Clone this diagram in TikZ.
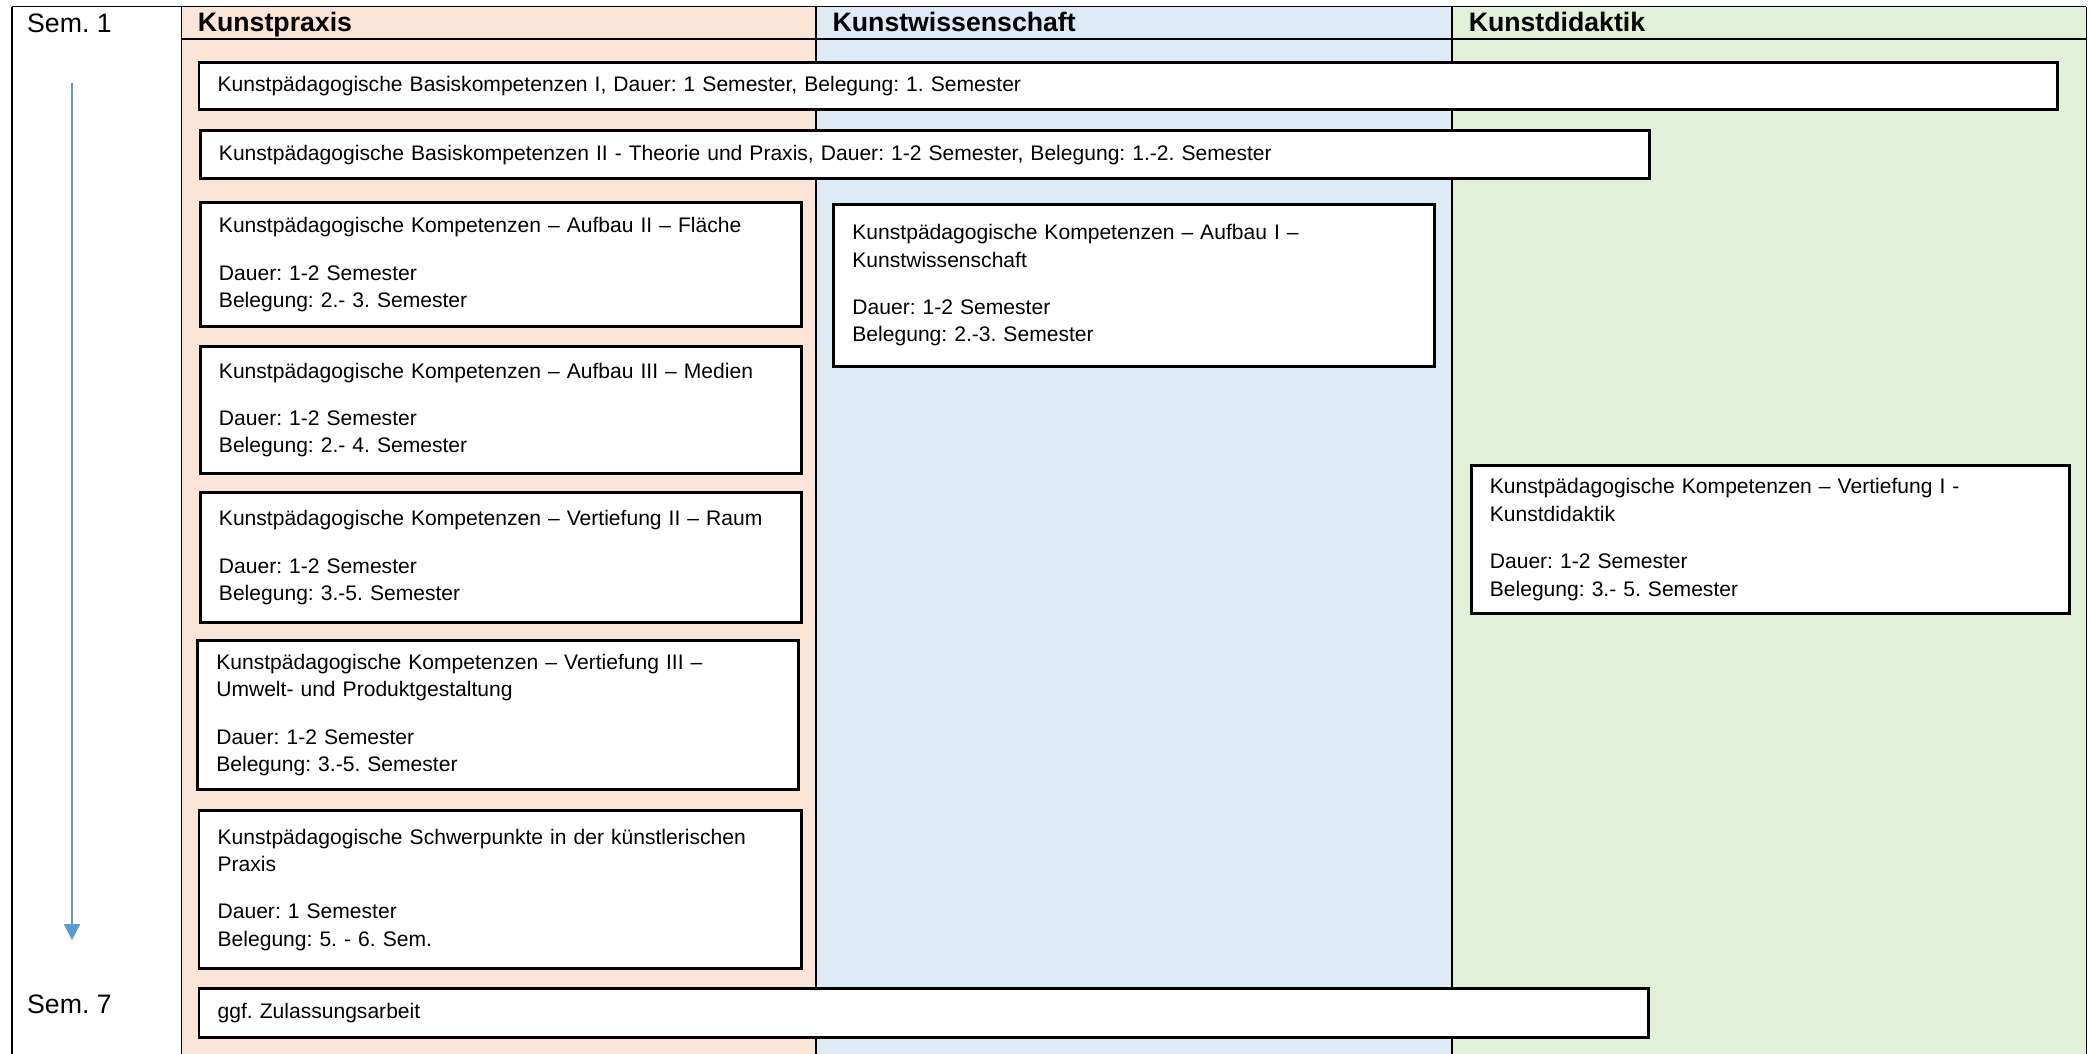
\documentclass[tikz,border=0pt]{standalone}
\usepackage{fontspec}
\setmainfont{Liberation Sans}
\frenchspacing
\usetikzlibrary{arrows.meta}
\definecolor{praxis}{HTML}{FBE5D6}
\definecolor{wiss}{HTML}{DEEBF7}
\definecolor{didak}{HTML}{E2F0D9}
\definecolor{arrowblue}{HTML}{5B9BD5}
\tikzset{
  modstyle/.style={draw=black, fill=white, line width=1.1pt, anchor=north west,
    inner xsep=7pt, inner ysep=0pt, align=left,
    font=\fontsize{7.9pt}{10.25pt}\selectfont\frenchspacing},
  gridline/.style={draw=black, line width=0.6pt},
  headline/.style={draw=black, line width=0.9pt},
  headtext/.style={anchor=base west, inner sep=0pt, font=\fontsize{10pt}{12pt}\selectfont\bfseries},
  semtext/.style={anchor=base west, inner sep=0pt, font=\fontsize{10pt}{12pt}\selectfont},
  timearrow/.style={draw=arrowblue, line width=0.6pt, -{Triangle[length=6pt,width=6pt]}}
}
\newcommand\modulebox[6]{%
  \pgfmathsetmacro\modw{(#4-#2)*0.5-14-1.1}%
  \pgfmathsetmacro\modh{(#5-#3)*0.5}%
  \node[modstyle, text width=\modw pt, minimum height=\modh pt] (#1) at ([xshift=0.55pt]#2,#3) {#6};%
}
\begin{document}
\begin{tikzpicture}[x=0.5pt, y=-0.5pt]
\useasboundingbox (0,0) rectangle (1568,790);
\fill[white] (0,0) rectangle (1568,790);
% column fills
\fill[praxis] (136,5) rectangle (612,790);
\fill[wiss] (612,5) rectangle (1089,790);
\fill[didak] (1089,5) rectangle (1564.5,790);
% grid
\draw[gridline] (9,5) -- (1564.5,5);
\draw[headline] (136,29.3) -- (1564.5,29.3);
\draw[gridline] (9,5) -- (9,790);
\draw[gridline] (136,5) -- (136,790);
\draw[gridline] (612,5) -- (612,790);
\draw[gridline] (1089,5) -- (1089,790);
\draw[gridline] (1564.5,5) -- (1564.5,790);
% headers
\node[semtext] (sem1) at (20,24.5) {Sem. 1};
\node[semtext] (sem7) at (20,760) {Sem. 7};
\node[headtext] (hpraxis) at (148,24) {Kunstpraxis};
\node[headtext] (hwiss) at (624,24) {Kunstwissenschaft};
\node[headtext] (hdidak) at (1101,24) {Kunstdidaktik};
% modules
\modulebox{b1}{147}{46}{1543}{81}{Kunstpädagogische Basiskompetenzen I, Dauer: 1 Semester, Belegung: 1. Semester}
\modulebox{b2}{148}{97}{1237}{133}{Kunstpädagogische Basiskompetenzen II - Theorie und Praxis, Dauer: 1-2 Semester, Belegung: 1.-2. Semester}
\modulebox{b3}{148}{151}{601}{244}{Kunstpädagogische Kompetenzen – Aufbau II – Fläche\\[7.5pt]Dauer: 1-2 Semester\\Belegung: 2.- 3. Semester}
\modulebox{b4}{148}{259}{601}{354}{Kunstpädagogische Kompetenzen – Aufbau III – Medien\\[7.5pt]Dauer: 1-2 Semester\\Belegung: 2.- 4. Semester}
\modulebox{b5}{148}{368}{601}{466}{Kunstpädagogische Kompetenzen – Vertiefung II – Raum\\[7.5pt]Dauer: 1-2 Semester\\Belegung: 3.-5. Semester}
\modulebox{b6}{146}{479}{599}{591}{Kunstpädagogische Kompetenzen – Vertiefung III –\\Umwelt- und Produktgestaltung\\[7.5pt]Dauer: 1-2 Semester\\Belegung: 3.-5. Semester}
\modulebox{b7}{147}{607}{601}{725}{Kunstpädagogische Schwerpunkte in der künstlerischen\\Praxis\\[7.5pt]Dauer: 1 Semester\\Belegung: 5. - 6. Sem.}
\modulebox{b8}{147}{740}{1236}{777}{ggf. Zulassungsarbeit}
\modulebox{b9}{623}{152}{1076}{274}{Kunstpädagogische Kompetenzen – Aufbau I –\\Kunstwissenschaft\\[7.5pt]Dauer: 1-2 Semester\\Belegung: 2.-3. Semester}
\modulebox{b10}{1101}{348}{1552}{459}{Kunstpädagogische Kompetenzen – Vertiefung I -\\Kunstdidaktik\\[7.5pt]Dauer: 1-2 Semester\\Belegung: 3.- 5. Semester}
% time arrow
\coordinate (tstart) at (54,62);
\coordinate (tend) at (54,705);
\draw[timearrow] (tstart) -- (tend);
\end{tikzpicture}
\end{document}
